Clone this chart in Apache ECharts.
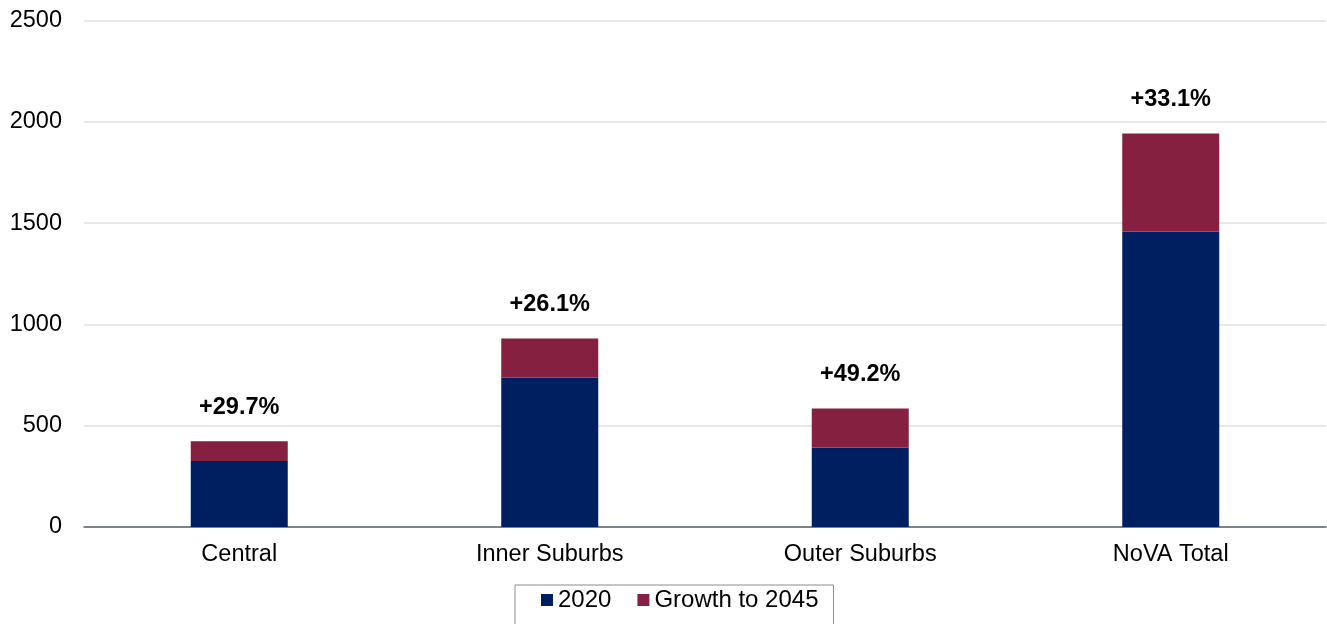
<!DOCTYPE html>
<html>
<head>
<meta charset="utf-8">
<script src="https://cdn.jsdelivr.net/npm/echarts@6/dist/echarts.min.js"></script>
<style>
  html, body { margin: 0; padding: 0; background: #fff; }
  #chart { width: 1327px; height: 624px; }
</style>
</head>
<body>
<div id="chart"></div>
<script>
// Population by area: 2020 level plus projected growth to 2045
const categories = ['Central', 'Inner Suburbs', 'Outer Suburbs', 'NoVA Total'];
const base2020 = [326, 738, 392, 1459];
const growthTo2045 = [97, 193, 193, 483];
const growthLabels = ['+29.7%', '+26.1%', '+49.2%', '+33.1%'];
const yTicks = [0, 500, 1000, 1500, 2000, 2500];

const FONT = '"Liberation Sans", Arial, sans-serif';
const NAVY = '#001F60';
const MAROON = '#862040';

const chart = echarts.init(document.getElementById('chart'), null, { renderer: 'canvas' });

chart.setOption({
  animation: false,
  backgroundColor: '#ffffff',
  textStyle: { fontFamily: FONT },
  grid: {
    left: 84, right: 1, top: 20.5, bottom: 97,
    containLabel: false,
    outerBoundsMode: 'none'
  },
  legend: {
    data: ['2020', 'Growth to 2045'],
    left: 515,
    top: 585,
    padding: [3, 15, 20, 26],
    itemGap: 26,
    itemWidth: 12,
    itemHeight: 12,
    icon: 'rect',
    borderColor: '#8c8c8c',
    borderWidth: 1,
    textStyle: { fontFamily: FONT, fontSize: 24, color: '#000' }
  },
  xAxis: {
    type: 'category',
    data: categories,
    axisLine: { lineStyle: { color: '#56626c', width: 1.5 } },
    axisTick: { show: false },
    axisLabel: { fontFamily: FONT, fontSize: 23.5, color: '#000', margin: 16 }
  },
  yAxis: {
    type: 'value',
    min: yTicks[0],
    max: yTicks[yTicks.length - 1],
    interval: yTicks[1] - yTicks[0],
    axisLine: { show: false },
    axisTick: { show: false },
    splitLine: { lineStyle: { color: '#dde1e6', width: 1.5 } },
    axisLabel: {
      fontFamily: FONT, fontSize: 23.5, color: '#000', margin: 22,
      formatter: v => String(v)
    }
  },
  series: [
    {
      name: '2020',
      type: 'bar',
      stack: 'total',
      barWidth: 97,
      itemStyle: { color: NAVY },
      data: base2020
    },
    {
      name: 'Growth to 2045',
      type: 'bar',
      stack: 'total',
      barWidth: 97,
      itemStyle: { color: MAROON },
      label: {
        show: true,
        position: 'top',
        distance: 22,
        fontFamily: FONT,
        fontSize: 23.5,
        fontWeight: 'bold',
        color: '#000',
        formatter: p => growthLabels[p.dataIndex]
      },
      data: growthTo2045
    }
  ]
});
</script>
</body>
</html>
